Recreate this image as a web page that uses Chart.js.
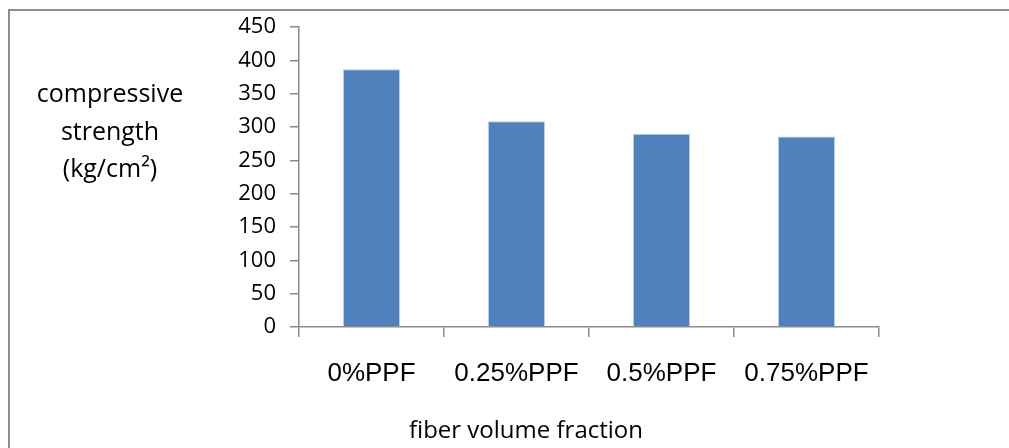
<!DOCTYPE html>
<html>
<head>
<meta charset="utf-8">
<script src="https://cdn.jsdelivr.net/npm/chart.js@4.4.1/dist/chart.umd.min.js"></script>
<style>
  html, body { margin: 0; padding: 0; background: #fff; }
  #wrap { width: 1009px; height: 448px; position: relative; }
</style>
</head>
<body>
<div id="wrap"><canvas id="c" width="1009" height="448"></canvas></div>
<script>
const categories = ['0%PPF', '0.25%PPF', '0.5%PPF', '0.75%PPF'];
const strengthValues = [387, 309, 290, 286];
const yTickMin = 0;
const yTickMax = 450;
const yTickStep = 50;
const yTitleLines = ['compressive', 'strength', '(kg/cm\u00B2)'];
const xTitle = 'fiber volume fraction';

const framePlugin = {
  id: 'frame',
  beforeDraw(chart) {
    const ctx = chart.ctx;
    ctx.save();
    ctx.fillStyle = '#ffffff';
    ctx.fillRect(0, 0, chart.width, chart.height);
    ctx.strokeStyle = '#8e8e8e';
    ctx.lineWidth = 2;
    ctx.beginPath();
    ctx.moveTo(9, chart.height + 5);
    ctx.lineTo(9, 10);
    ctx.lineTo(chart.width + 5, 10);
    ctx.stroke();
    ctx.restore();
  },
  afterDraw(chart) {
    const ctx = chart.ctx;
    ctx.save();
    ctx.fillStyle = '#000';
    ctx.textAlign = 'center';
    ctx.textBaseline = 'middle';
    ctx.font = '25px "Open Sans"';
    const ys = [95, 133, 170];
    yTitleLines.forEach((t, i) => ctx.fillText(t, 110, ys[i]));
    ctx.font = '24px "Open Sans"';
    ctx.fillText(xTitle, 526, 431);
    ctx.restore();
  }
};

new Chart(document.getElementById('c'), {
  type: 'bar',
  data: {
    labels: categories,
    datasets: [{
      data: strengthValues,
      backgroundColor: '#4f81bd',
      borderColor: '#b9cde6',
      borderWidth: 1,
      categoryPercentage: 1,
      barPercentage: 0.393
    }]
  },
  options: {
    responsive: false,
    animation: false,
    devicePixelRatio: 1,
    layout: { padding: { left: 0, top: 26, right: 130, bottom: 0 } },
    plugins: { legend: { display: false }, tooltip: { enabled: false } },
    scales: {
      x: {
        offset: true,
        grid: { offset: true, drawOnChartArea: false, tickLength: 10, color: '#8c8c8c', lineWidth: 1.5 },
        border: { color: '#8c8c8c', width: 1.5 },
        ticks: { color: '#000', padding: 21, font: { family: '"Liberation Sans", Arial', size: 26 } },
        afterFit(scale) { scale.height = 121; }
      },
      y: {
        min: yTickMin,
        max: yTickMax,
        grid: { drawOnChartArea: false, tickLength: 9, color: '#8c8c8c', lineWidth: 1.5 },
        border: { color: '#8c8c8c', width: 1.5 },
        ticks: { stepSize: yTickStep, color: '#000', padding: 14, font: { family: '"Open Sans"', size: 22 } },
        afterFit(scale) { scale.width = 299; }
      }
    }
  },
  plugins: [framePlugin]
});
</script>
</body>
</html>
